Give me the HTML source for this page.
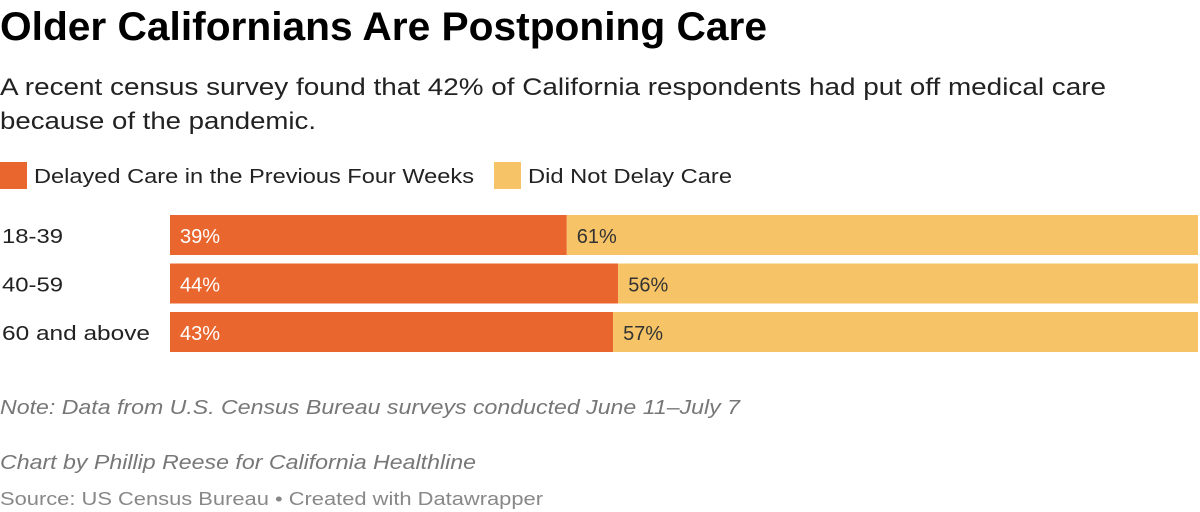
<!DOCTYPE html>
<html><head><meta charset="utf-8"><style>
html,body{margin:0;padding:0;background:#fff;}
svg{display:block;font-family:"Liberation Sans",sans-serif;}
</style></head><body>
<svg id="chart" width="1200" height="512" viewBox="0 0 1200 512" xmlns="http://www.w3.org/2000/svg">
<text x="0" y="40" font-size="40" font-weight="bold" fill="#000" textLength="767" lengthAdjust="spacingAndGlyphs">Older Californians Are Postponing Care</text>
<text x="0" y="95" font-size="24" fill="#222" textLength="1106" lengthAdjust="spacingAndGlyphs">A recent census survey found that 42% of California respondents had put off medical care</text>
<text x="0" y="129" font-size="24" fill="#222" textLength="316" lengthAdjust="spacingAndGlyphs">because of the pandemic.</text>
<rect x="0" y="162" width="27" height="27" fill="#e9662f"/>
<text x="34" y="183" font-size="20" fill="#222" textLength="440" lengthAdjust="spacingAndGlyphs">Delayed Care in the Previous Four Weeks</text>
<rect x="494" y="162" width="27" height="27" fill="#f6c466"/>
<text x="528" y="183" font-size="20" fill="#222" textLength="204" lengthAdjust="spacingAndGlyphs">Did Not Delay Care</text>
<g id="bars"></g>
<text x="0" y="414" font-size="20" font-style="italic" fill="#777" textLength="740" lengthAdjust="spacingAndGlyphs">Note: Data from U.S. Census Bureau surveys conducted June 11–July 7</text>
<text x="0" y="469" font-size="20" font-style="italic" fill="#777" textLength="476" lengthAdjust="spacingAndGlyphs">Chart by Phillip Reese for California Healthline</text>
<text x="0" y="505" font-size="18" fill="#888" textLength="543" lengthAdjust="spacingAndGlyphs">Source: US Census Bureau • Created with Datawrapper</text>
</svg>
<script>
const categories = ["18-39", "40-59", "60 and above"];
const delayed = [38.6, 43.6, 43.1];
const notDelayed = [61.4, 56.4, 56.9];
const labelWidths = [61, 61, 148];

const NS = "http://www.w3.org/2000/svg";
const g = document.getElementById("bars");
const x0 = 170, x1 = 1198, top0 = 215, step = 48.5, bh = 40;
function xs(v){ return (x1 - x0) * v / 100; }
function mk(tag, attrs){ const e = document.createElementNS(NS, tag); for (const k in attrs) e.setAttribute(k, attrs[k]); return e; }
categories.forEach((c, i) => {
  const y = top0 + i * step;
  const lab = mk("text", {x: 2, y: y + 28, "font-size": 20, fill: "#222", textLength: labelWidths[i], lengthAdjust: "spacingAndGlyphs"});
  
  
  lab.textContent = c; g.appendChild(lab);
  const w1 = xs(delayed[i]);
  const r1 = mk("rect", {x: x0, y: y, width: w1, height: bh, fill: "#e9662f"});
  
  
  g.appendChild(r1);
  const w2 = xs(notDelayed[i]);
  const r2 = mk("rect", {x: x0 + w1, y: y, width: w2, height: bh, fill: "#f6c466"});
  
  
  g.appendChild(r2);
  const t1 = mk("text", {x: x0 + 10, y: y + 28, "font-size": 20, fill: "#fff"});
  
  
  t1.textContent = Math.round(delayed[i]) + "%"; g.appendChild(t1);
  const t2 = mk("text", {x: x0 + w1 + 10, y: y + 28, "font-size": 20, fill: "#333"});
  
  
  t2.textContent = Math.round(notDelayed[i]) + "%"; g.appendChild(t2);
});
</script>
</body></html>
